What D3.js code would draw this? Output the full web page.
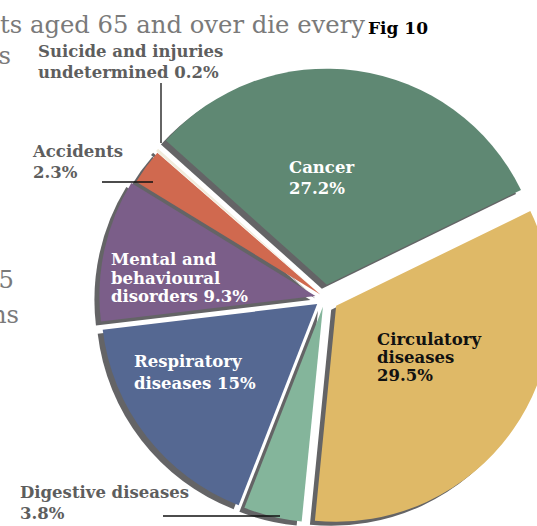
<!DOCTYPE html>
<html><head><meta charset="utf-8">
<script src="https://cdn.jsdelivr.net/npm/d3@7"></script>
<style>
html,body{margin:0;padding:0;background:#fff;overflow:hidden}
svg{display:block}
</style></head>
<body>
<svg id="c" width="537" height="526"></svg>
<script>
// ---- data ----
const categories = ["Circulatory diseases","Digestive diseases","Respiratory diseases","Mental and behavioural disorders","Accidents","Suicide and injuries undetermined","Cancer"];
const values = [29.5, 3.8, 15, 9.3, 2.3, 0.2, 27.2];
const labelLines = [
  ["Circulatory","diseases","29.5%"],
  ["Digestive diseases","3.8%"],
  ["Respiratory","diseases 15%"],
  ["Mental and","behavioural","disorders 9.3%"],
  ["Accidents","2.3%"],
  ["Suicide and injuries","undetermined 0.2%"],
  ["Cancer","27.2%"]
];
const backText = ["ts aged 65 and over die every","s","5","ns"];
const figTitle = "Fig 10";

// ---- style ----
const colors = ["#dfb967","#84b59b","#556892","#7b5e89","#d0694f","#f1ecdd","#5f8873"];
const explode = [13.6, 8.9, 9.9, 9.8, 5.8, 8, 13.5];
const shadowColor = "#646466";
const shadow = [-5, 4];
const cx = 325, cy = 298, R = 216;
const startDeg = 64;

const svg = d3.select("#c");
const font = "'DejaVu Serif', serif";

// background page text (clipped remnants of the surrounding page)
const bg = svg.append("g").attr("font-family", font).attr("fill", "#7a7a7a").attr("font-size", 24.3);
bg.append("text").attr("x", 365).attr("y", 33).attr("text-anchor", "end").text(backText[0]);
bg.append("text").attr("x", 11).attr("y", 64).attr("text-anchor", "end").text(backText[1]);
bg.append("text").attr("x", 14).attr("y", 288).attr("text-anchor", "end").text(backText[2]);
bg.append("text").attr("x", 19).attr("y", 323).attr("text-anchor", "end").text(backText[3]);

svg.append("text").attr("x", 368).attr("y", 34).attr("font-family", font)
  .attr("font-weight", "bold").attr("font-size", 17).attr("fill", "#000").text(figTitle);

const pie = d3.pie().sort(null).value(d => d)
  .startAngle(startDeg * Math.PI / 180)
  .endAngle(startDeg * Math.PI / 180 + 2 * Math.PI);
const arcs = pie(values);
const arc = d3.arc().innerRadius(0).outerRadius(R);

function off(d, i) {
  const a = (d.startAngle + d.endAngle) / 2;
  return [explode[i] * Math.sin(a), -explode[i] * Math.cos(a)];
}

const g = svg.append("g").attr("transform", `translate(${cx},${cy})`);
g.selectAll("path.sh").data(arcs).join("path").attr("class", "sh")
  .attr("d", arc).attr("fill", shadowColor)
  .attr("transform", (d, i) => { const o = off(d, i); return `translate(${o[0] + shadow[0]},${o[1] + shadow[1]})`; });
g.selectAll("path.sl").data(arcs).join("path").attr("class", "sl")
  .attr("d", arc).attr("fill", (d, i) => colors[i])
  .attr("transform", (d, i) => { const o = off(d, i); return `translate(${o[0]},${o[1]})`; });

// inside labels: anchored at slice centroid (half radius) plus a nudge
const inside = [
  {i: 0, nudge: [-47.8, -22.4], fill: "#111", lh: 18, weight: "bold", size: 16.5},
  {i: 2, nudge: [-97.8, -3.2], fill: "#fff", lh: 22, weight: "bold", size: 16.5},
  {i: 3, nudge: [-98.9, -7.8], fill: "#fff", lh: 18.5, weight: "bold", size: 16.5},
  {i: 6, nudge: [-52.7, -4.7], fill: "#fff", lh: 21, weight: "bold", size: 16.5}
];
inside.forEach(L => {
  const d = arcs[L.i];
  const a = (d.startAngle + d.endAngle) / 2;
  const rr = explode[L.i] + R * 0.5;
  const x = cx + rr * Math.sin(a) + L.nudge[0];
  const y = cy - rr * Math.cos(a) + L.nudge[1];
  const t = svg.append("text").attr("font-family", font).attr("font-size", L.size)
    .attr("font-weight", L.weight).attr("fill", L.fill);
  labelLines[L.i].forEach((s, k) => t.append("tspan").attr("x", x).attr("y", y + k * L.lh).text(s));
});

// outside labels with leader lines
const outside = [
  {i: 5, x: 38, y: 57, line: [[161, 83], [161, 143]]},
  {i: 4, x: 33, y: 157, line: [[102, 182], [153, 182]]},
  {i: 1, x: 20, y: 498, line: [[163, 516], [280, 516]]}
];
outside.forEach(L => {
  const t = svg.append("text").attr("font-family", font).attr("font-size", 16.5)
    .attr("font-weight", "bold").attr("fill", "#5e5e5e");
  labelLines[L.i].forEach((s, k) => t.append("tspan").attr("x", L.x).attr("y", L.y + k * 21).text(s));
  svg.append("line").attr("x1", L.line[0][0]).attr("y1", L.line[0][1])
    .attr("x2", L.line[1][0]).attr("y2", L.line[1][1]).attr("stroke", "#111").attr("stroke-width", 1.3);
});
</script>
</body></html>
